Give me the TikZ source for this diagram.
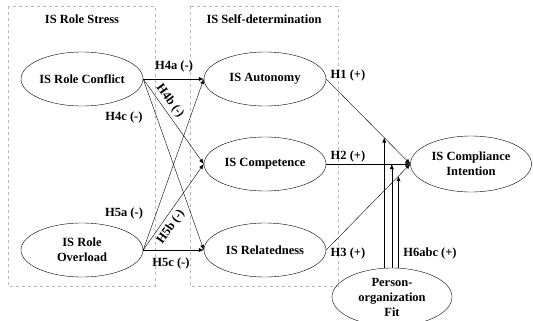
\documentclass[tikz,border=0pt]{standalone}
\usepackage{fontspec}
\setmainfont{Liberation Serif}
\usepackage{tikz}
\usetikzlibrary{arrows.meta,shapes.geometric,calc}

\begin{document}
\begin{tikzpicture}[x=1pt,y=-1pt,font=\bfseries\fontsize{12.5}{15}\selectfont,>={Latex[length=5pt,width=4pt]},
  var/.style={draw,ellipse,align=center,minimum width=122pt,minimum height=54pt,inner sep=0pt},
  grp/.style={draw=gray!55,dashed,line width=0.5pt},
  lab/.style={inner sep=1pt}]
  \useasboundingbox (0,0) rectangle (533,321);
  % construct groups
  \draw[grp] (8,6) rectangle (155,286);
  \draw[grp] (190,6) rectangle (338,286);
  \node (stress) at (82,19) {IS Role Stress};
  \node (selfdet) at (264,19) {IS Self-determination};
  % constructs
  \node[var] (conf) at (82,79) {IS Role Conflict};
  \node[var] (over) at (82,250) {IS Role\\Overload};
  \node[var] (aut) at (265,79) {IS Autonomy};
  \node[var] (comp) at (265,164) {IS Competence};
  \node[var] (rel) at (265,250) {IS Relatedness};
  \node[var,minimum width=121pt,minimum height=56pt] (ci) at (471,164) {IS Compliance\\Intention};
  \node[var,minimum width=120pt,minimum height=58pt] (fit) at (392,297) {Person-\\organization\\Fit};
  % paths
  \draw[->] (conf.east) -- (aut.west); \draw[->] (conf.east) -- (comp.west); \draw[->] (conf.east) -- (rel.west);
  \draw[->] (over.east) -- (aut.west); \draw[->] (over.east) -- (comp.west); \draw[->] (over.east) -- (rel.west);
  \draw[->] (aut.east) -- (ci.west); \draw[->] (comp.east) -- (ci.west); \draw[->] (rel.east) -- (ci.west);
  % moderation
  \coordinate (m1) at ($(aut.east)!0.69!(ci.west)$);
  \coordinate (m2) at ($(comp.east)!0.78!(ci.west)$);
  \coordinate (m3) at ($(rel.east)!0.86!(ci.west)$);
  \draw[->] (m1 |- fit.north) -- (m1); \draw[->] (m2 |- fit.north) -- (m2); \draw[->] (m3 |- fit.north) -- (m3);
  % labels
  \node[lab] (h4a) at (174,66) {H4a (-)};
  \node[lab,rotate=-54] (h4b) at (170,101) {H4b (-)};
  \node[lab] (h4c) at (124,117) {H4c (-)};
  \node[lab] (h5a) at (124,213) {H5a (-)};
  \node[lab,rotate=55] (h5b) at (171,227) {H5b (-)};
  \node[lab] (h5c) at (171,263) {H5c (-)};
  \node[lab] (h1) at (348,75) {H1 (+)};
  \node[lab] (h2) at (348,156) {H2 (+)};
  \node[lab] (h3) at (348,253) {H3 (+)};
  \node[lab] (h6) at (430,253) {H6abc (+)};
\end{tikzpicture}
\end{document}
